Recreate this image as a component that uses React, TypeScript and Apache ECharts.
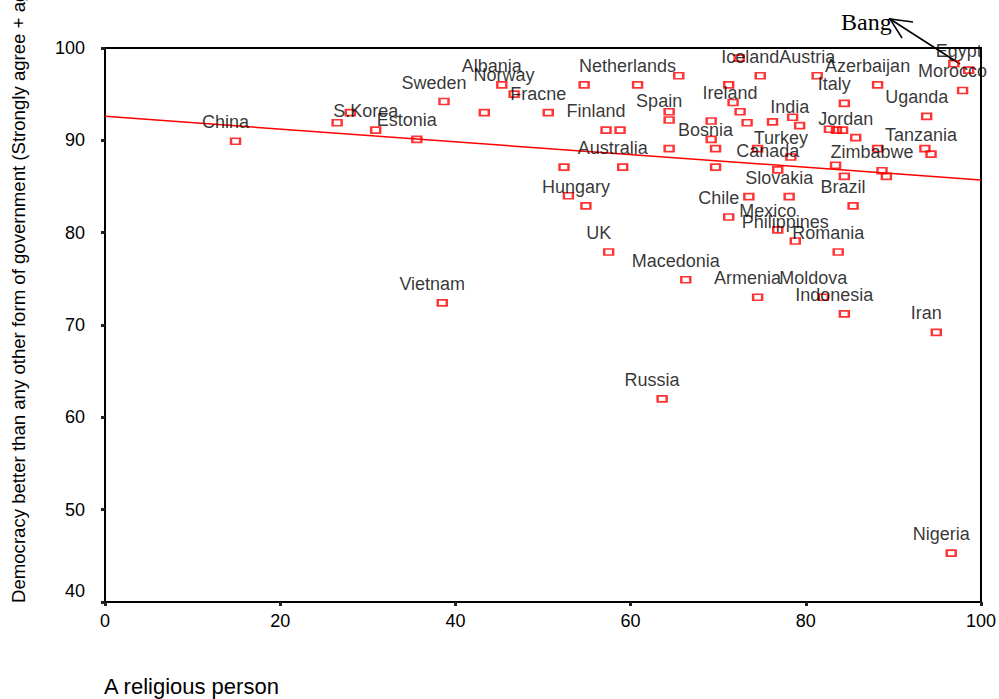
import React, { useEffect, useRef } from "react";
import * as echarts from "echarts";

const countries: string[] = [
  "China", "", "", "S.Korea", "Estonia", "Sweden", "Vietnam", "", "Albania", "Norway",
  "Fracne", "", "", "", "Hungary", "Finland", "UK", "", "Australia", "Netherlands",
  "Russia", "", "Spain", "", "", "Macedonia", "", "", "Bosnia", "",
  "", "Chile", "", "", "Ireland", "", "", "Armenia", "", "Iceland",
  "", "Mexico", "Canada", "Slovakia", "Turkey", "", "Philippines", "India", "Austria", "Moldova",
  "", "", "", "Romania", "", "Italy", "", "Indonesia", "Brazil", "Jordan",
  "Azerbaijan", "", "Zimbabwe", "", "", "Uganda", "Tanzania", "Iran", "Nigeria", "",
  "Egypt", "Morocco",
];

const religious: number[] = [
  14.9, 26.5, 28.0, 30.9, 35.6, 38.7, 38.5, 43.3, 45.3, 46.7,
  50.6, 52.4, 52.9, 54.7, 54.9, 57.2, 57.5, 58.8, 59.1, 60.8,
  63.6, 64.4, 64.4, 64.4, 65.5, 66.3, 69.2, 69.2, 69.7, 69.7,
  71.2, 71.2, 71.7, 72.4, 72.5, 73.3, 73.5, 74.5, 74.5, 74.8,
  76.2, 76.8, 76.8, 78.1, 78.3, 78.5, 78.8, 79.3, 81.3, 82.0,
  82.7, 83.4, 83.5, 83.7, 84.2, 84.4, 84.4, 84.4, 85.4, 85.7,
  88.2, 88.2, 88.7, 89.2, 93.6, 93.8, 94.3, 94.9, 96.6, 96.9,
  98.6, 97.9,
];

const democracy: number[] = [
  89.9, 91.9, 93.0, 91.1, 90.1, 94.2, 72.4, 93.0, 96.0, 95.0,
  93.0, 87.1, 84.0, 96.0, 82.9, 91.1, 77.9, 91.1, 87.1, 96.0,
  62.0, 93.1, 92.2, 89.1, 97.0, 74.9, 92.1, 90.1, 89.1, 87.1,
  96.0, 81.7, 94.1, 98.9, 93.1, 91.9, 83.9, 73.0, 89.1, 97.0,
  92.0, 80.3, 86.8, 83.9, 88.2, 92.5, 79.1, 91.6, 97.0, 73.0,
  91.2, 87.3, 91.1, 77.9, 91.1, 94.0, 86.1, 71.2, 82.9, 90.3,
  96.0, 89.1, 86.7, 86.1, 89.1, 92.6, 88.5, 69.2, 45.3, 98.3,
  97.6, 95.4,
];

const fitX: number[] = [0, 100];
const fitY: number[] = [92.6, 85.7];

const yTitle = "Democracy better than any other form of government (Strongly agree + agree)";
const xTitle = "A religious person";
const noteText = "Bang";

const FONT = "'Liberation Sans', Arial, Helvetica, sans-serif";

export default function App() {
  const ref = useRef<HTMLDivElement>(null);

  useEffect(() => {
    if (!ref.current) return;
    const chart = echarts.init(ref.current, null, { renderer: "svg" });

    const points = religious.map((x, i) => ({
      value: [x, democracy[i]],
      name: countries[i],
    }));

    const option: any = {
      animation: false,
      backgroundColor: "#ffffff",
      grid: {
        left: 105,
        right: 13,
        top: 48,
        bottom: 97,
        show: true,
        borderColor: "#000",
        borderWidth: 2,
        backgroundColor: "transparent",
      },
      xAxis: {
        type: "value",
        min: 0,
        max: 100,
        interval: 20,
        axisLine: { show: true, onZero: false, lineStyle: { color: "#000", width: 2 } },
        axisTick: { show: true, length: 4, lineStyle: { color: "#222", width: 3 } },
        axisLabel: { color: "#000", fontSize: 18, fontFamily: FONT, margin: 10 },
        splitLine: { show: false },
      },
      yAxis: {
        type: "value",
        min: 40,
        max: 100,
        interval: 10,
        axisLine: { show: true, onZero: false, lineStyle: { color: "#000", width: 2 } },
        axisTick: { show: true, length: 4, lineStyle: { color: "#222", width: 3 } },
        axisLabel: {
          color: "#000",
          fontSize: 18,
          fontFamily: FONT,
          margin: 20,
          formatter: (v: number) => (v === 40 ? "{low|40}" : String(v)),
          rich: {
            low: { fontSize: 18, fontFamily: FONT, color: "#000", padding: [0, 0, 22, 0] },
          },
        },
        splitLine: { show: false },
      },
      series: [
        {
          type: "line",
          data: fitX.map((x, i) => [x, fitY[i]]),
          symbol: "none",
          silent: true,
          lineStyle: { color: "#ff0000", width: 1.5 },
          z: 1,
        },
        {
          type: "scatter",
          data: points,
          symbol: "rect",
          symbolSize: [9, 6],
          itemStyle: { color: "rgba(0,0,0,0)", borderColor: "#ff0000", borderWidth: 2 },
          label: {
            show: true,
            formatter: "{b}",
            position: "inside",
            offset: [-10, -19],
            color: "#000",
            fontSize: 18,
            fontFamily: FONT,
          },
          z: 2,
        },
      ],
      graphic: [
        {
          type: "text",
          x: 18,
          y: 603,
          rotation: Math.PI / 2,
          style: {
            text: yTitle,
            fill: "#000",
            fontSize: 18.6,
            fontFamily: FONT,
            align: "left",
            verticalAlign: "middle",
          },
        },
        {
          type: "text",
          x: 104,
          y: 686,
          style: {
            text: xTitle,
            fill: "#000",
            fontSize: 22,
            fontFamily: FONT,
            align: "left",
            verticalAlign: "middle",
          },
        },
        {
          type: "text",
          x: 841,
          y: 22,
          style: {
            text: noteText,
            fill: "#000",
            fontSize: 24,
            fontFamily: "'Liberation Serif', 'Times New Roman', serif",
            align: "left",
            verticalAlign: "middle",
          },
        },
        {
          type: "line",
          shape: { x1: 960, y1: 64, x2: 890, y2: 19 },
          style: { stroke: "#000", lineWidth: 1.5 },
        },
        {
          type: "polyline",
          shape: { points: [[913, 22], [890, 19], [902, 38]] },
          style: { stroke: "#000", fill: "none", lineWidth: 1.5 },
        },
      ],
    };

    chart.setOption(option);
    return () => chart.dispose();
  }, []);

  return (
    <div
      ref={ref}
      style={{ position: "fixed", left: 0, top: 0, width: 999, height: 699, background: "#fff" }}
    />
  );
}
